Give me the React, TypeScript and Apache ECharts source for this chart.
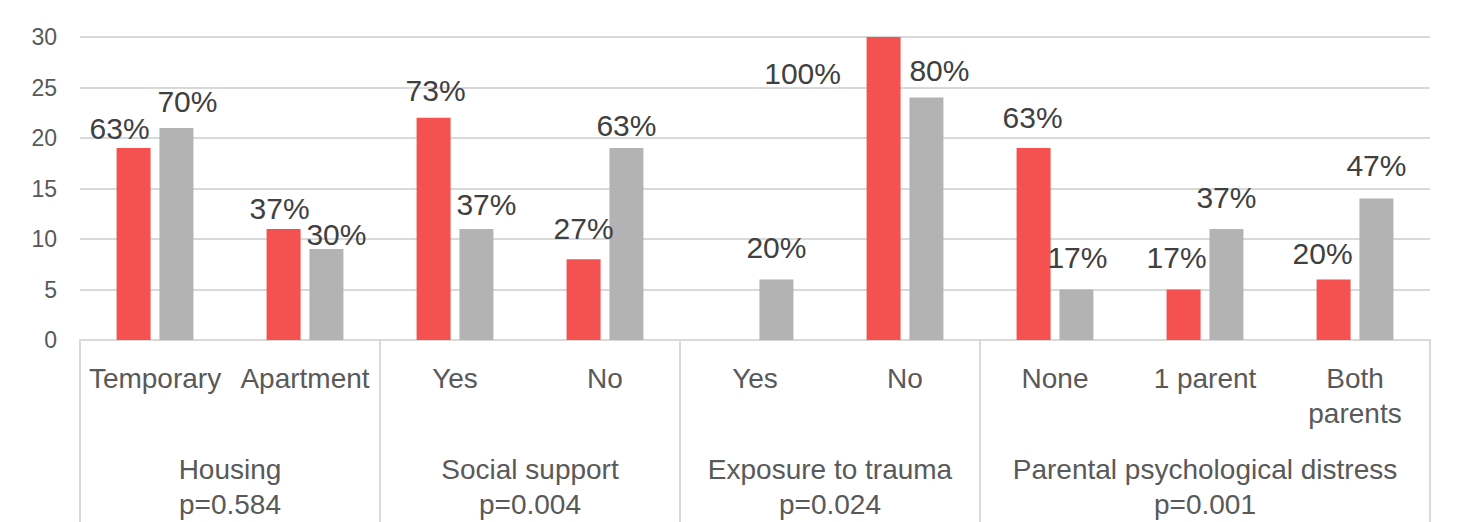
import React, { useEffect, useRef } from "react";
import * as echarts from "echarts";

const categories = ["Temporary", "Apartment", "Yes", "No", "Yes", "No", "None", "1 parent", "Both\nparents"];
const redValues = [19, 11, 22, 8, 0, 30, 19, 5, 6];
const grayValues = [21, 9, 11, 19, 6, 24, 5, 11, 14];
const redLabels = ["63%", "37%", "73%", "27%", "", "100%", "63%", "17%", "20%"];
const grayLabels = ["70%", "30%", "37%", "63%", "20%", "80%", "17%", "37%", "47%"];
const groups = [
  { name: "Housing\np=0.584", from: 0, to: 1 },
  { name: "Social support\np=0.004", from: 2, to: 3 },
  { name: "Exposure to trauma\np=0.024", from: 4, to: 5 },
  { name: "Parental psychological distress\np=0.001", from: 6, to: 8 },
];
const yTicks = { min: 0, max: 30, interval: 5 };

// label nudges (style only), [dx, dy] in pixels
const redNudge = [[-14, 0], [-4, 0], [2, -7], [0, -11], [0, 0], [-81, 56], [-1, -11], [-7, -12], [-11, -6]];
const grayNudge = [[11, -6], [10, 5], [10, -4], [0, -3], [0, -12], [13, -7], [1, -12], [0, -11], [0, -13]];

const FONT = '"Liberation Sans", Arial, sans-serif';
const RED = "#F55151";
const GRAY = "#B3B3B3";
const LINE = "#D9D9D9";

export default function App() {
  const ref = useRef<HTMLDivElement>(null);
  useEffect(() => {
    if (!ref.current) return;
    const chart = echarts.init(ref.current, null, { renderer: "svg" });
    const mkData = (vals: number[], labels: string[], nudge: number[][]) =>
      vals.map((v, i) => ({
        value: v,
        label: { formatter: labels[i], offset: nudge[i], show: labels[i] !== "" },
      }));
    chart.setOption({
      animation: false,
      textStyle: { fontFamily: FONT },
      grid: { left: 80, right: 43, top: 37, bottom: 182, containLabel: false },
      xAxis: {
        type: "category",
        data: categories,
        axisLine: { show: true, lineStyle: { color: LINE, width: 2 } },
        axisTick: { show: false },
        axisLabel: {
          interval: 0,
          fontSize: 28,
          lineHeight: 35,
          color: "#595959",
          fontFamily: FONT,
          margin: 21,
        },
      },
      yAxis: {
        type: "value",
        min: yTicks.min,
        max: yTicks.max,
        interval: yTicks.interval,
        axisLine: { show: false },
        axisTick: { show: false },
        splitLine: { lineStyle: { color: LINE, width: 2 } },
        axisLabel: { fontSize: 23, color: "#595959", margin: 23, fontFamily: FONT },
      },
      series: [
        {
          type: "bar",
          data: mkData(redValues, redLabels, redNudge),
          barWidth: 34,
          barGap: "26%",
          itemStyle: { color: RED },
          label: { show: true, position: "top", distance: 5, fontSize: 30, color: "#404040", fontFamily: FONT },
        },
        {
          type: "bar",
          data: mkData(grayValues, grayLabels, grayNudge),
          barWidth: 34,
          barGap: "26%",
          itemStyle: { color: GRAY },
          label: { show: true, position: "top", distance: 5, fontSize: 30, color: "#404040", fontFamily: FONT },
        },
      ],
    });

    const px = (i: number) => chart.convertToPixel({ xAxisIndex: 0 }, i) as number;
    const step = px(1) - px(0);
    const y0 = chart.convertToPixel({ yAxisIndex: 0 }, 0) as number;
    const H = 522;
    const bounds: number[] = [];
    groups.forEach((g, k) => {
      if (k === 0) bounds.push(px(g.from) - step / 2);
      bounds.push(px(g.to) + step / 2);
    });
    const graphic: any[] = bounds.map((x) => ({
      type: "line",
      shape: { x1: x, y1: y0, x2: x, y2: H },
      style: { stroke: LINE, lineWidth: 2 },
      silent: true,
    }));
    groups.forEach((g) => {
      const cx = (px(g.from) - step / 2 + px(g.to) + step / 2) / 2;
      graphic.push({
        type: "text",
        x: cx,
        y: y0 + 112,
        style: {
          text: g.name,
          fontSize: 28,
          lineHeight: 35,
          fill: "#595959",
          fontFamily: FONT,
          textAlign: "center",
          textVerticalAlign: "top",
        },
        silent: true,
      });
    });
    chart.setOption({ graphic });
    return () => chart.dispose();
  }, []);
  return (
    <div
      ref={ref}
      style={{ position: "fixed", left: 0, top: 0, width: 1473, height: 522, background: "#fff" }}
    />
  );
}
